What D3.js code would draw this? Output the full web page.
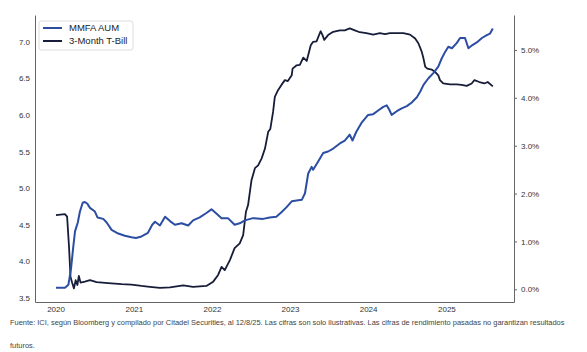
<!DOCTYPE html>
<html>
<head>
<meta charset="utf-8">
<script src="https://cdn.jsdelivr.net/npm/d3@7"></script>
<style>
  body { margin: 0; background: #fff; }
  #container { width: 587px; height: 352px; }
  text { font-family: "Liberation Sans", Arial, sans-serif; }
</style>
</head>
<body>
<div id="container"></div>
<script>
// MMFA AUM (left axis, trillions)
const aumDates = [
  "2020-01-03","2020-02-14","2020-03-01","2020-03-13","2020-03-24","2020-04-01","2020-04-14","2020-04-24",
  "2020-05-07","2020-05-17","2020-05-28","2020-06-10","2020-07-03","2020-07-15","2020-08-11","2020-08-27",
  "2020-09-19","2020-10-20","2020-11-20","2020-12-21","2021-01-11","2021-02-06","2021-03-08","2021-03-28",
  "2021-04-10","2021-05-03","2021-05-27","2021-06-19","2021-07-12","2021-08-12","2021-09-12","2021-10-05",
  "2021-11-05","2021-12-06","2021-12-30","2022-01-23","2022-02-15","2022-03-17","2022-04-17","2022-05-11",
  "2022-06-04","2022-07-12","2022-08-28","2022-09-28","2022-10-29","2022-11-22","2022-12-16","2023-01-09",
  "2023-02-01","2023-02-25","2023-03-12","2023-03-27","2023-04-12","2023-04-19","2023-05-12","2023-06-05",
  "2023-06-28","2023-07-22","2023-08-22","2023-09-14","2023-10-07","2023-10-20","2023-11-07","2023-12-01",
  "2024-01-01","2024-01-25","2024-02-17","2024-03-12","2024-03-28","2024-04-09","2024-04-20","2024-05-14",
  "2024-06-06","2024-06-30","2024-07-23","2024-08-16","2024-09-01","2024-09-16","2024-10-09","2024-11-01",
  "2024-11-24","2024-12-10","2024-12-26","2025-01-10","2025-01-27","2025-02-18","2025-03-06","2025-03-29",
  "2025-04-14","2025-05-01","2025-05-23","2025-06-16","2025-07-09","2025-07-24","2025-08-06"
];
const aumValues = [
  3.64,3.64,3.68,3.89,4.20,4.41,4.53,4.68,
  4.80,4.81,4.79,4.73,4.68,4.60,4.58,4.53,
  4.43,4.38,4.35,4.33,4.32,4.34,4.39,4.50,
  4.54,4.49,4.61,4.55,4.50,4.52,4.49,4.56,
  4.60,4.66,4.71,4.65,4.59,4.59,4.50,4.52,
  4.56,4.59,4.58,4.60,4.61,4.67,4.74,4.82,
  4.83,4.84,4.93,5.20,5.29,5.25,5.36,5.48,
  5.50,5.54,5.61,5.65,5.73,5.65,5.77,5.89,
  6.00,6.01,6.06,6.11,6.13,6.07,6.00,6.05,
  6.09,6.12,6.17,6.24,6.32,6.41,6.50,6.57,
  6.66,6.77,6.86,6.93,6.91,6.98,7.05,7.05,
  6.91,6.95,6.99,7.05,7.09,7.11,7.18
];

// 3-Month T-Bill (right axis, %)
const billDates = [
  "2020-01-03","2020-02-14","2020-02-24","2020-03-04","2020-03-11","2020-03-19","2020-03-27","2020-04-04",
  "2020-04-12","2020-04-19","2020-04-27","2020-05-17","2020-06-10","2020-07-11","2020-09-03","2020-11-05",
  "2020-12-21","2021-02-06","2021-03-17","2021-05-03","2021-06-19","2021-08-20","2021-10-05","2021-12-06",
  "2022-01-07","2022-01-30","2022-02-15","2022-03-02","2022-03-26","2022-04-17","2022-05-11","2022-05-27",
  "2022-06-09","2022-06-19","2022-07-05","2022-07-21","2022-08-05","2022-08-21","2022-09-06","2022-09-21",
  "2022-10-01","2022-10-14","2022-10-22","2022-11-06","2022-11-22","2022-12-08","2022-12-22","2023-01-09",
  "2023-01-13","2023-02-01","2023-02-16","2023-03-04","2023-03-20","2023-04-08","2023-04-19","2023-05-05",
  "2023-05-24","2023-06-02","2023-06-10","2023-06-28","2023-07-22","2023-08-22","2023-09-14","2023-10-07",
  "2023-10-31","2023-11-23","2023-12-24","2024-01-25","2024-02-25","2024-03-20","2024-04-12","2024-05-14",
  "2024-06-14","2024-07-15","2024-08-08","2024-08-23","2024-09-08","2024-09-16","2024-09-24","2024-10-04",
  "2024-10-24","2024-11-09","2024-11-24","2024-12-02","2024-12-17","2025-01-18","2025-02-18","2025-03-13",
  "2025-04-06","2025-04-29","2025-05-12","2025-06-04","2025-06-28","2025-07-13","2025-08-06"
];
const billValues = [
  1.55,1.57,1.52,0.89,0.26,0.13,0.02,0.19,
  0.09,0.28,0.14,0.16,0.19,0.15,0.13,0.11,
  0.10,0.07,0.05,0.03,0.04,0.08,0.05,0.07,
  0.16,0.30,0.47,0.40,0.61,0.86,0.96,1.13,
  1.62,1.76,2.28,2.53,2.59,2.73,2.94,3.29,
  3.35,3.71,4.02,4.16,4.27,4.37,4.35,4.47,
  4.61,4.68,4.69,4.84,4.77,5.10,5.17,5.18,
  5.39,5.31,5.21,5.31,5.38,5.41,5.41,5.45,
  5.41,5.37,5.35,5.32,5.35,5.33,5.35,5.35,
  5.35,5.32,5.24,5.14,4.96,4.82,4.65,4.61,
  4.59,4.54,4.47,4.37,4.30,4.28,4.28,4.27,
  4.25,4.30,4.37,4.33,4.30,4.33,4.24
];

const leftTicks = [3.5, 4.0, 4.5, 5.0, 5.5, 6.0, 6.5, 7.0];
const rightTicks = [0, 1, 2, 3, 4, 5];
const yearTicks = ["2020", "2021", "2022", "2023", "2024", "2025"];
const seriesNames = ["MMFA AUM", "3-Month T-Bill"];
const footnote = "Fuente: ICI, según Bloomberg y compilado por Citadel Securities, al 12/8/25. Las cifras son solo ilustrativas. Las cifras de rendimiento pasadas no garantizan resultados";
const footnote2 = "futuros.";

const parseDate = d3.timeParse("%Y-%m-%d");
const aum = aumDates.map((d, i) => ({date: parseDate(d), value: aumValues[i]}));
const bill = billDates.map((d, i) => ({date: parseDate(d), value: billValues[i]}));

const colorAum = "#2b4da3";
const colorBill = "#171c38";
const axisColor = "#666";

const margin = {top: 15, right: 73, bottom: 50, left: 35};
const W = 587, H = 352;

const svg = d3.select("#container")
  .append("svg")
  .attr("width", W)
  .attr("height", H);

const x = d3.scaleTime()
  .domain([parseDate("2019-09-27"), parseDate("2025-11-13")])
  .range([margin.left, W - margin.right]);

const yL = d3.scaleLinear()
  .domain([3.445, 7.364])
  .range([H - margin.bottom, margin.top]);

const yR = d3.scaleLinear()
  .domain([-0.265, 5.73])
  .range([H - margin.bottom, margin.top]);

// axes
const styleAxis = g => {
  g.selectAll(".domain").attr("stroke", axisColor);
  g.selectAll(".tick line").attr("stroke", axisColor);
  g.selectAll("text").attr("fill", "#333").style("font-size", "8px");
};

svg.append("g")
  .attr("transform", `translate(${margin.left},0)`)
  .call(d3.axisLeft(yL).tickValues(leftTicks).tickFormat(d3.format(".1f")).tickSize(0).tickSizeOuter(0).tickPadding(5))
  .call(styleAxis);

svg.append("g")
  .attr("transform", `translate(${W - margin.right},0)`)
  .call(d3.axisRight(yR).tickValues(rightTicks).tickFormat(d => d.toFixed(1) + "%").tickSize(3).tickSizeOuter(0).tickPadding(4))
  .call(styleAxis);

svg.append("g")
  .attr("transform", `translate(0,${H - margin.bottom})`)
  .call(d3.axisBottom(x).tickValues(yearTicks.map(y => parseDate(y + "-01-01"))).tickFormat(d3.timeFormat("%Y")).tickSize(0).tickSizeOuter(0).tickPadding(4))
  .call(styleAxis);

// lines
const lineL = d3.line().x(d => x(d.date)).y(d => yL(d.value));
const lineR = d3.line().x(d => x(d.date)).y(d => yR(d.value));

svg.append("path")
  .datum(bill)
  .attr("fill", "none")
  .attr("stroke", colorBill)
  .attr("stroke-width", 1.8)
  .attr("stroke-linejoin", "round")
  .attr("d", lineR);

svg.append("path")
  .datum(aum)
  .attr("fill", "none")
  .attr("stroke", colorAum)
  .attr("stroke-width", 2)
  .attr("stroke-linejoin", "round")
  .attr("d", lineL);

// legend
const legend = svg.append("g").attr("transform", "translate(39,21)");
legend.append("rect")
  .attr("width", 94).attr("height", 29).attr("rx", 2)
  .attr("fill", "#fff").attr("stroke", "#ddd");
[colorAum, colorBill].forEach((c, i) => {
  const item = legend.append("g").attr("transform", `translate(0,${7 + i * 13})`);
  item.append("line").attr("x1", 4).attr("x2", 23).attr("stroke", c).attr("stroke-width", 2);
  item.append("text").attr("x", 30).attr("dy", "0.35em")
    .style("font-size", "9.5px").attr("fill", "#222").text(seriesNames[i]);
});

// footnote
svg.append("text").attr("x", 10).attr("y", 325)
  .style("font-size", "7.45px").attr("fill", "#444").text(footnote);
svg.append("text").attr("x", 10).attr("y", 348)
  .style("font-size", "7.45px").attr("fill", "#444").text(footnote2);
</script>
</body>
</html>
